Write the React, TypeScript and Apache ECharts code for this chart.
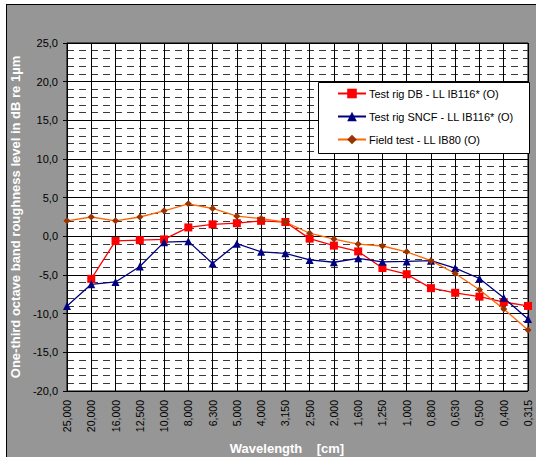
import React, { useEffect, useRef } from "react";
import * as echarts from "echarts";

const categories = ["25,000","20,000","16,000","12,500","10,000","8,000","6,300","5,000","4,000","3,150","2,500","2,000","1,600","1,250","1,000","0,800","0,630","0,500","0,400","0,315"];
const testRigDB: (number | null)[] = [null, -5.5, -0.6, -0.5, -0.4, 1.15, 1.55, 1.7, 2.0, 1.85, -0.3, -1.2, -1.95, -4.1, -4.9, -6.7, -7.3, -7.8, -8.5, -9.0];
const testRigSNCF = [-9.0, -6.2, -5.9, -3.9, -0.75, -0.65, -3.5, -0.95, -2.0, -2.2, -3.05, -3.35, -2.85, -3.3, -3.25, -3.15, -4.1, -5.45, -7.95, -10.7];
const fieldTest = [2.0, 2.5, 2.0, 2.5, 3.3, 4.2, 3.6, 2.6, 2.3, 1.85, 0.4, -0.35, -1.0, -1.25, -2.0, -3.15, -4.8, -6.9, -9.4, -12.1];
const seriesNames = ["Test rig DB - LL IB116* (O)", "Test rig SNCF - LL IB116* (O)", "Field test - LL IB80 (O)"];
const yTitle = "One-third octave band roughness level in dB re 1µm";
const xTitle = "Wavelength    [cm]";

const FONT = "'Liberation Sans', Arial, sans-serif";

export default function App() {
  const ref = useRef<HTMLDivElement>(null);
  useEffect(() => {
    if (!ref.current) return;
    const chart = echarts.init(ref.current, undefined, { renderer: "svg" });
    chart.setOption({
      animation: false,
      backgroundColor: "transparent",
      textStyle: { fontFamily: FONT },
      grid: {
        left: 67, top: 43, width: 461, height: 348,
        show: true, backgroundColor: "#ffffff", borderColor: "#000000", borderWidth: 1,
      },
      xAxis: {
        type: "category",
        data: categories,
        boundaryGap: false,
        axisLine: { lineStyle: { color: "#000", width: 1 } },
        axisTick: { show: true, length: 4, interval: 0, lineStyle: { color: "#000" } },
        axisLabel: { rotate: 90, interval: 0, margin: 9, fontSize: 10.5, color: "#000", fontFamily: FONT },
        splitLine: { show: true, interval: 0, lineStyle: { color: "#000", width: 1 } },
      },
      yAxis: {
        type: "value",
        min: -20, max: 25, interval: 5,
        name: yTitle,
        nameLocation: "middle",
        nameRotate: 90,
        nameGap: 44,
        nameTextStyle: { color: "#ffffff", fontWeight: "bold", fontSize: 13, fontFamily: FONT },
        axisLine: { show: true, lineStyle: { color: "#000", width: 1 } },
        axisTick: { show: true, length: 4, lineStyle: { color: "#000" } },
        axisLabel: {
          margin: 9, fontSize: 11, color: "#000", fontFamily: FONT,
          formatter: (v: number) => v.toFixed(1).replace(".", ","),
        },
        splitLine: { show: true, lineStyle: { color: "#000", width: 1 } },
        minorTick: { show: false, splitNumber: 5 },
        minorSplitLine: { show: true, lineStyle: { color: "#3a3a3a", width: 1, type: [7, 5] } },
      },
      legend: {
        orient: "vertical",
        left: 337, top: 88, padding: 0,
        itemWidth: 28, itemHeight: 12, itemGap: 12,
        z: 12,
        textStyle: { fontSize: 11, color: "#000", fontFamily: FONT, padding: [0, 0, 0, -2] },
        data: seriesNames,
      },
      graphic: [
        {
          type: "rect", z: 11,
          shape: { x: 318.5, y: 82.5, width: 211, height: 71 },
          style: { fill: "#ffffff", stroke: "#000000", lineWidth: 1 },
        },
        {
          type: "text", x: 287, y: 448,
          style: { text: xTitle, fill: "#ffffff", font: `bold 13px ${FONT}`, align: "center", verticalAlign: "middle" },
        },
      ],
      series: [
        {
          name: seriesNames[0], type: "line", data: testRigDB,
          symbol: "rect", symbolSize: 8,
          lineStyle: { color: "#ff0000", width: 1.3 },
          itemStyle: { color: "#ff0000" },
        },
        {
          name: seriesNames[1], type: "line", data: testRigSNCF,
          symbol: "triangle", symbolSize: 8,
          lineStyle: { color: "#000080", width: 1.3 },
          itemStyle: { color: "#000080" },
        },
        {
          name: seriesNames[2], type: "line", data: fieldTest,
          symbol: "diamond", symbolSize: 7,
          lineStyle: { color: "#ff6600", width: 1.3 },
          itemStyle: { color: "#993300" },
        },
      ],
    });
    return () => chart.dispose();
  }, []);
  return (
    <div style={{ position: "fixed", left: 0, top: 0, width: 536, height: 457, background: "#ffffff" }}>
      <div style={{ position: "absolute", left: 6, top: 4, width: 540, height: 460, background: "#969696", borderLeft: "1px solid #000", borderTop: "1px solid #000" }} />
      <div ref={ref} style={{ position: "absolute", left: 0, top: 0, width: 536, height: 457 }} />
    </div>
  );
}
